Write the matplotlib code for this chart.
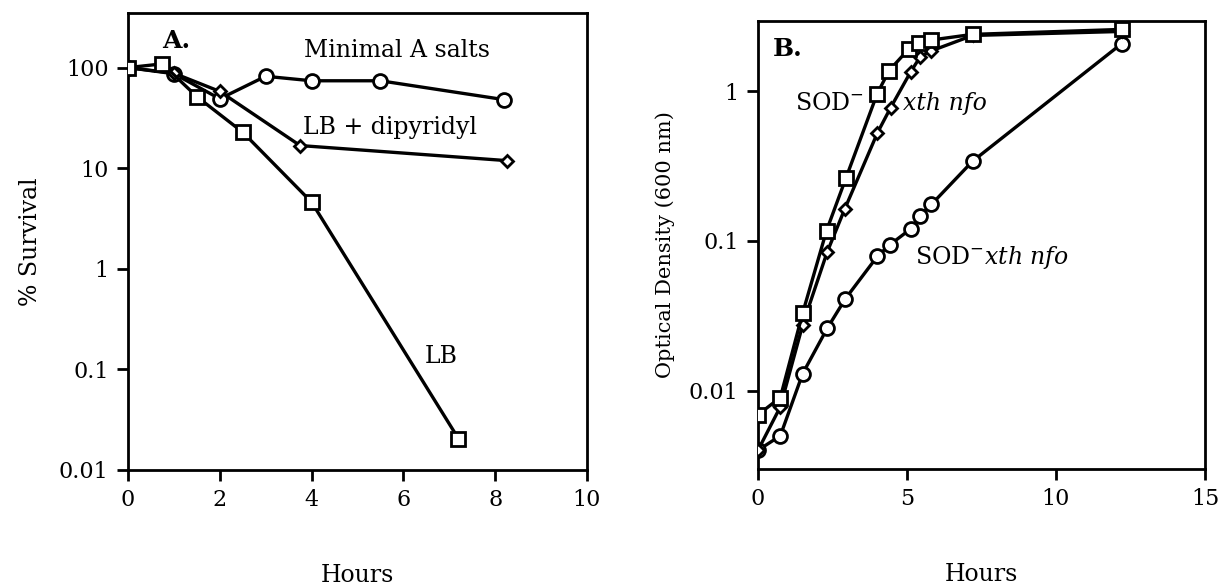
import matplotlib
matplotlib.use("Agg")
import matplotlib.pyplot as plt
from matplotlib.ticker import FixedLocator, FixedFormatter, NullLocator

plt.rcParams['font.family'] = ['DejaVu Serif', 'DejaVu Sans']
plt.rcParams['mathtext.fontset'] = 'dejavuserif'

# ---- Panel A data (% survival) ----
minA_hours = [0, 1.0, 2.0, 3.0, 4.0, 5.5, 8.2]
minA_surv = [100, 87, 49, 82, 74, 74, 48]
dip_hours = [0, 1.0, 2.0, 3.75, 8.25]
dip_surv = [100, 88, 58, 16.8, 11.9]
lb_hours = [0, 0.75, 1.5, 2.5, 4.0, 7.2]
lb_surv = [100, 109, 51.5, 22.8, 4.6, 0.0205]
a_yticks = [0.01, 0.1, 1, 10, 100]
a_yticklabels = ["0.01", "0.1", "1", "10", "100"]
a_xticks = [0, 2, 4, 6, 8, 10]

# ---- Panel B data (OD600) ----
sod_hours = [0, 0.75, 1.5, 2.3, 2.95, 4.0, 4.4, 5.07, 5.41, 5.8, 7.2, 12.2]
sod_od = [0.0069, 0.009, 0.033, 0.117, 0.262, 0.96, 1.37, 1.92, 2.1, 2.19, 2.39, 2.58]
xn_hours = [0, 0.75, 1.5, 2.32, 2.91, 4.01, 4.45, 5.12, 5.45, 5.8, 7.2, 12.2]
xn_od = [0.004, 0.0078, 0.0275, 0.084, 0.163, 0.527, 0.774, 1.34, 1.7, 1.85, 2.35, 2.5]
sxn_hours = [0, 0.75, 1.5, 2.32, 2.93, 4.01, 4.42, 5.12, 5.43, 5.82, 7.2, 12.2]
sxn_od = [0.004, 0.005, 0.013, 0.026, 0.041, 0.079, 0.094, 0.12, 0.146, 0.175, 0.34, 2.07]
b_yticks = [0.01, 0.1, 1]
b_yticklabels = ["0.01", "0.1", "1"]
b_xticks = [0, 5, 10, 15]

fig = plt.figure(figsize=(12.2, 5.86), dpi=100)
axA = fig.add_axes([0.1049, 0.198, 0.3762, 0.780])
axB = fig.add_axes([0.6213, 0.1997, 0.3664, 0.765])

lw = 2.4
sq = dict(marker='s', ms=10, mfc='white', mec='black', mew=2.0)
ci = dict(marker='o', ms=10, mfc='white', mec='black', mew=2.0)
di = dict(marker='D', ms=6.5, mfc='white', mec='black', mew=2.0)

for ax in (axA, axB):
    for s in ax.spines.values():
        s.set_linewidth(2.0)
    ax.tick_params(which='major', direction='out', length=8, width=2.0,
                   labelsize=16, pad=6)
    ax.tick_params(which='minor', length=0)

# Panel A
axA.plot(minA_hours, minA_surv, color='black', lw=lw, zorder=3, **ci)
axA.plot(dip_hours, dip_surv, color='black', lw=lw, zorder=3, **di)
axA.plot(lb_hours, lb_surv, color='black', lw=lw, zorder=4, **sq)
axA.set_yscale('log')
axA.set_ylim(0.01, 350)
axA.set_xlim(0, 10)
axA.yaxis.set_major_locator(FixedLocator(a_yticks))
axA.yaxis.set_major_formatter(FixedFormatter(a_yticklabels))
axA.yaxis.set_minor_locator(NullLocator())
axA.xaxis.set_major_locator(FixedLocator(a_xticks))
axA.set_ylabel("% Survival", fontsize=17, labelpad=12)
axA.set_xlabel("Hours", fontsize=17, labelpad=38)
axA.text(0.75, 185, "A.", fontsize=18, fontweight='bold', va='center', ha='left')
axA.text(3.84, 147, "Minimal A salts", fontsize=17, va='center', ha='left')
axA.text(3.82, 25.5, "LB + dipyridyl", fontsize=17, va='center', ha='left')
axA.text(6.47, 0.133, "LB", fontsize=17, va='center', ha='left')

# Panel B
axB.plot(sxn_hours, sxn_od, color='black', lw=lw, zorder=3, **ci)
axB.plot(xn_hours, xn_od, color='black', lw=lw, zorder=3, **di)
axB.plot(sod_hours, sod_od, color='black', lw=lw, zorder=4, **sq)
axB.set_yscale('log')
axB.set_ylim(0.003, 2.95)
axB.set_xlim(0, 15)
axB.yaxis.set_major_locator(FixedLocator(b_yticks))
axB.yaxis.set_major_formatter(FixedFormatter(b_yticklabels))
axB.yaxis.set_minor_locator(NullLocator())
axB.xaxis.set_major_locator(FixedLocator(b_xticks))
axB.set_ylabel("Optical Density (600 nm)", fontsize=15, labelpad=10)
axB.set_xlabel("Hours", fontsize=17, labelpad=38)
axB.text(0.5, 1.9, "B.", fontsize=18, fontweight='bold', va='center', ha='left')
axB.text(1.25, 0.83, "SOD$^{-}$", fontsize=17, va='center', ha='left')
axB.text(4.85, 0.83, "xth nfo", fontsize=17, style='italic', va='center', ha='left')
axB.text(5.26, 0.077, r"SOD$^{-}$$\mathit{xth\ nfo}$", fontsize=17, va='center', ha='left')

fig.savefig("out.png", dpi=100)
